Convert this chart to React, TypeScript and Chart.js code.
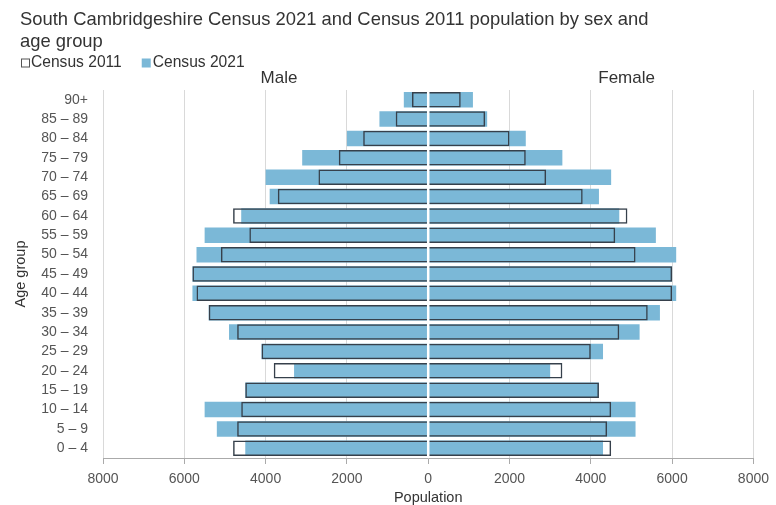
import { useEffect, useRef } from 'react';
import { Chart, registerables } from 'chart.js';

Chart.register(...registerables);

const ageGroups = [
  '90+', '85 – 89', '80 – 84', '75 – 79', '70 – 74', '65 – 69', '60 – 64',
  '55 – 59', '50 – 54', '45 – 49', '40 – 44', '35 – 39', '30 – 34',
  '25 – 29', '20 – 24', '15 – 19', '10 – 14', '5 – 9', '0 – 4',
];

const male2021 = [600, 1200, 2000, 3100, 4000, 3900, 4600, 5500, 5700, 5800, 5800, 5400, 4900, 4100, 3300, 4500, 5500, 5200, 4500];
const male2011 = [400, 800, 1600, 2200, 2700, 3700, 4800, 4400, 5100, 5800, 5700, 5400, 4700, 4100, 3800, 4500, 4600, 4700, 4800];
const female2021 = [1100, 1450, 2400, 3300, 4500, 4200, 4700, 5600, 6100, 6000, 6100, 5700, 5200, 4300, 3000, 4200, 5100, 5100, 4300];
const female2011 = [800, 1400, 2000, 2400, 2900, 3800, 4900, 4600, 5100, 6000, 6000, 5400, 4700, 4000, 3300, 4200, 4500, 4400, 4500];

const titleLines = [
  'South Cambridgeshire Census 2021 and Census 2011 population by sex and',
  'age group',
];
const legendLabels = ['Census 2011', 'Census 2021'];
const sideLabels = ['Male', 'Female'];
const xTickValues = [-8000, -6000, -4000, -2000, 0, 2000, 4000, 6000, 8000];

const FONT = "'Liberation Sans', Arial, sans-serif";
const BLUE = '#7bb8d7';
const BOX = '#36404b';
const TEXT = '#333333';
const TICK = '#555555';

export default function App() {
  const ref = useRef<HTMLCanvasElement>(null);

  useEffect(() => {
    document.body.style.margin = '0';
    const canvas = ref.current;
    if (!canvas) return;

    const overlay = {
      id: 'overlay',
      afterDatasetsDraw(chart: any) {
        const { ctx, chartArea, scales } = chart;
        const x = scales.x;
        ctx.save();
        // white zero divider
        const zx = x.getPixelForValue(0);
        ctx.strokeStyle = '#ffffff';
        ctx.lineWidth = 2.5;
        ctx.beginPath();
        ctx.moveTo(zx, chartArea.top);
        ctx.lineTo(zx, chartArea.bottom);
        ctx.stroke();

        // legend
        ctx.font = `15.6px ${FONT}`;
        ctx.textBaseline = 'middle';
        ctx.textAlign = 'left';
        const ly = 63;
        let lx = 21;
        ctx.fillStyle = '#ffffff';
        ctx.fillRect(lx, ly - 4.5, 8, 8);
        ctx.strokeStyle = '#555';
        ctx.lineWidth = 1;
        ctx.strokeRect(lx + 0.5, ly - 4, 8, 8);
        ctx.fillStyle = TEXT;
        ctx.fillText(legendLabels[0], lx + 10, ly);
        lx = lx + 10 + ctx.measureText(legendLabels[0]).width + 20;
        ctx.fillStyle = BLUE;
        ctx.fillRect(lx, ly - 4.5, 9, 9);
        ctx.fillStyle = TEXT;
        ctx.fillText(legendLabels[1], lx + 11, ly);

        // Male / Female
        ctx.font = `17px ${FONT}`;
        ctx.textAlign = 'center';
        ctx.fillText(sideLabels[0], x.getPixelForValue(-3670), chartArea.top - 12);
        ctx.fillText(sideLabels[1], x.getPixelForValue(4880), chartArea.top - 12);
        ctx.restore();
      },
    };

    const chart = new Chart(canvas, {
      type: 'bar',
      data: {
        labels: ageGroups,
        datasets: [
          {
            label: legendLabels[0],
            data: male2011.map((v) => -v),
            backgroundColor: 'rgba(0,0,0,0)',
            borderColor: BOX,
            borderWidth: 1.5,
            grouped: false,
            order: 0,
          },
          {
            label: legendLabels[0],
            data: female2011,
            backgroundColor: 'rgba(0,0,0,0)',
            borderColor: BOX,
            borderWidth: 1.5,
            grouped: false,
            order: 0,
          },
          {
            label: legendLabels[1],
            data: male2021.map((v) => -v),
            backgroundColor: BLUE,
            borderWidth: 0,
            grouped: false,
            order: 1,
          },
          {
            label: legendLabels[1],
            data: female2021,
            backgroundColor: BLUE,
            borderWidth: 0,
            grouped: false,
            order: 1,
          },
        ],
      } as any,
      options: {
        responsive: false,
        animation: false,
        indexAxis: 'y',
        datasets: { bar: { barPercentage: 0.8, categoryPercentage: 1 } },
        layout: { padding: { top: 9, left: 20, right: 18, bottom: 0 } },
        plugins: {
          title: {
            display: true,
            text: titleLines,
            align: 'start',
            color: TEXT,
            font: { size: 18.4, family: FONT, weight: 'normal', lineHeight: 22 / 18.4 },
            padding: { top: 0, bottom: 37 },
          },
          legend: { display: false },
          tooltip: { enabled: false },
        },
        scales: {
          x: {
            type: 'linear',
            min: -8000,
            max: 8000,
            afterBuildTicks: (scale: any) => {
              scale.ticks = xTickValues.map((v) => ({ value: v }));
            },
            ticks: {
              callback: (v: any) => String(Math.abs(Number(v))),
              color: TICK,
              font: { size: 14, family: FONT },
              padding: 7,
            },
            grid: { color: '#d9d9d9', lineWidth: 1, tickLength: 6, tickColor: '#aaaaaa' },
            border: { display: true, color: '#aaaaaa' },
            title: {
              display: true,
              text: 'Population',
              color: TEXT,
              font: { size: 14.5, family: FONT },
              padding: { top: 0, bottom: -2 },
            },
            afterFit: (scale: any) => {
              scale.height = 47;
            },
          },
          y: {
            grid: { display: false, drawTicks: false },
            border: { display: false },
            ticks: { color: TICK, font: { size: 14, family: FONT }, padding: 15, autoSkip: false },
            title: {
              display: true,
              text: 'Age group',
              color: TEXT,
              font: { size: 14.5, family: FONT },
              padding: { top: -8, bottom: 0 },
            },
            afterFit: (scale: any) => {
              scale.width = 83;
            },
          },
        },
      } as any,
      plugins: [overlay],
    });

    return () => chart.destroy();
  }, []);

  return (
    <div style={{ width: 776, height: 505 }}>
      <canvas ref={ref} width={776} height={505} style={{ display: 'block' }} />
    </div>
  );
}
